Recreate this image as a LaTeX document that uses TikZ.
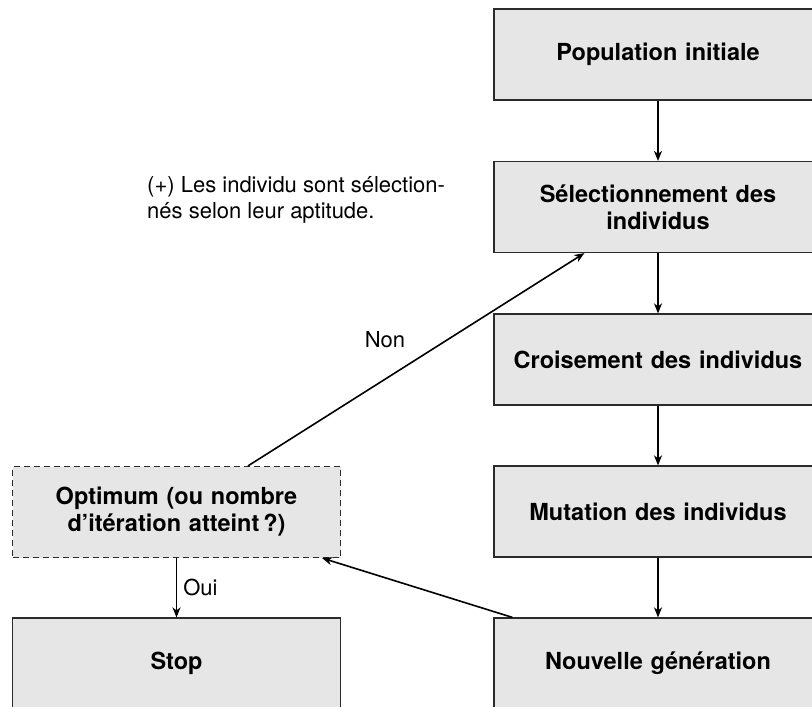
\documentclass[tikz,border=0pt]{standalone}
\usepackage{fontspec}
\setmainfont{TeX Gyre Heros}
\usetikzlibrary{arrows.meta,calc}
\definecolor{boxfill}{HTML}{E6E6E6}
\definecolor{boxline}{HTML}{2B2B2B}
\tikzset{
  stepbox/.style={draw=boxline, fill=boxfill, line width=1.2pt, minimum width=328pt, minimum height=91pt, inner sep=4pt, align=center, font=\fontsize{23.5}{27}\selectfont\bfseries, text width=318pt},
  dashbox/.style={stepbox, dash pattern=on 6pt off 4pt},
  conn/.style={draw=black, line width=1.6pt, -{Stealth[length=10pt,width=8pt,inset=3pt]}},
  lbl/.style={font=\fontsize{22}{26}\selectfont, inner sep=0pt}
}
\begin{document}
\begin{tikzpicture}[x=1pt,y=-1pt]
\useasboundingbox (0,0) rectangle (812,707);
\clip (0,0) rectangle (812,707);
\node[stepbox] (pop) at (658,54.5) {Population initiale};
\node[stepbox] (sel) at (658,207) {Sélectionnement des\\individus};
\node[stepbox] (cro) at (658,359.5) {Croisement des individus};
\node[stepbox] (mut) at (658,511.5) {Mutation des individus};
\node[stepbox] (nou) at (658,663.5) {Nouvelle génération};
\node[dashbox] (opt) at (176.5,512) {Optimum (ou nombre\\d’itération atteint\,?)};
\node[stepbox] (stop) at (176.5,663.5) {Stop};
\draw[conn] (pop) -- (sel);
\draw[conn] (sel) -- (cro);
\draw[conn] (cro) -- (mut);
\draw[conn] (mut) -- (nou);
\draw[conn] (opt) -- node[lbl, right=6pt] (oui) {Oui} (stop);
\draw[conn] ($(nou.north west)+(19,0)$) -- ($(opt.south east)+(-19,0)$);
\draw[conn] ($(opt.north)+(71.5,0)$) -- ($(sel.south west)+(91,0)$);
\node[lbl] (non) at (385,340) {Non};
\node[lbl, anchor=north west, align=left] (note) at (147,176) {(+) Les individu sont sélection-\\nés selon leur aptitude.};
\end{tikzpicture}
\end{document}
